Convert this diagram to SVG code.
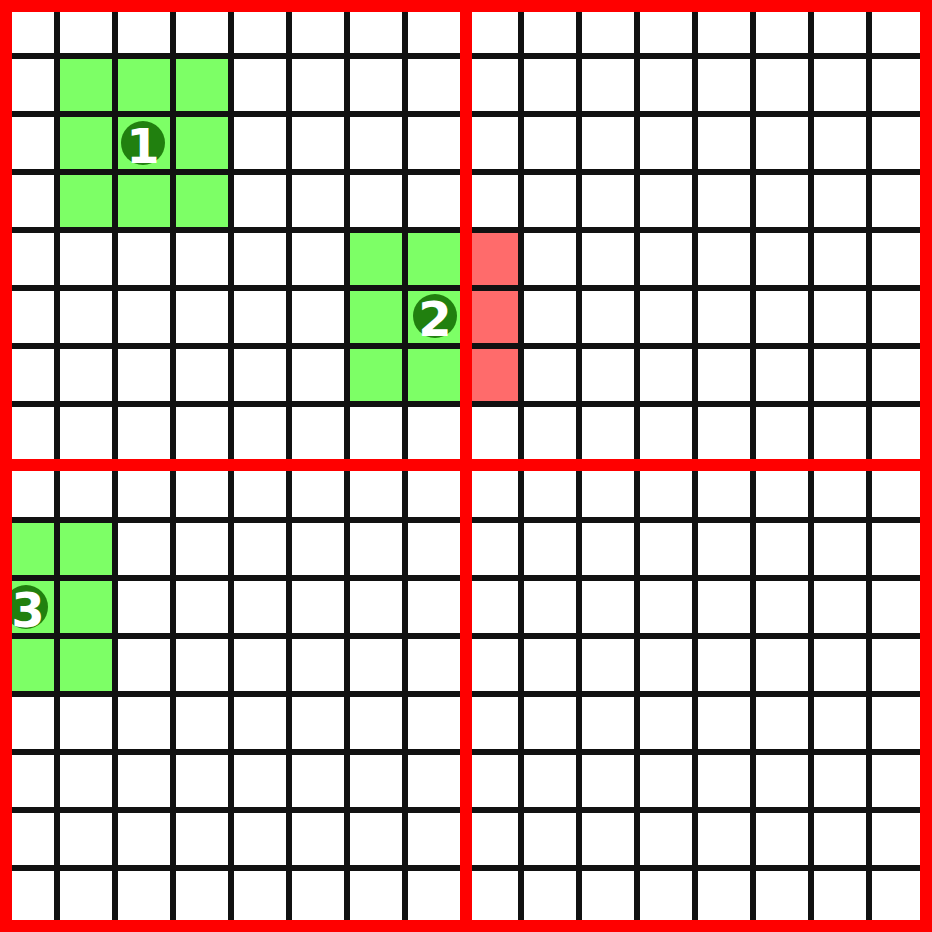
<svg xmlns="http://www.w3.org/2000/svg" width="932" height="932" viewBox="0 0 932 932">
  <style>
    .g { fill: #7dff66; }
    .r { fill: #ff6b6b; }
    .grid line { stroke: #111111; stroke-width: 6; }
    .red line { stroke: #ff0000; stroke-width: 12; }
    .badge circle { fill: #21800f; }
    .badge text { fill: #ffffff; font-family: "DejaVu Sans", sans-serif; font-weight: bold; font-size: 48px; text-anchor: middle; }
  </style>
  <rect x="0" y="0" width="932" height="932" fill="#ffffff"/>
  <g id="fills">
    <rect class="g" x="57" y="56" width="174" height="174"/>
    <rect class="g" x="347" y="230" width="116" height="174"/>
    <rect class="r" x="463" y="230" width="58" height="174"/>
    <rect class="g" x="0" y="520" width="115" height="174"/>
  </g>
  <g id="grid" class="grid">
    <line x1="57" y1="0" x2="57" y2="932"/>
    <line x1="115" y1="0" x2="115" y2="932"/>
    <line x1="173" y1="0" x2="173" y2="932"/>
    <line x1="231" y1="0" x2="231" y2="932"/>
    <line x1="289" y1="0" x2="289" y2="932"/>
    <line x1="347" y1="0" x2="347" y2="932"/>
    <line x1="405" y1="0" x2="405" y2="932"/>
    <line x1="521" y1="0" x2="521" y2="932"/>
    <line x1="579" y1="0" x2="579" y2="932"/>
    <line x1="637" y1="0" x2="637" y2="932"/>
    <line x1="695" y1="0" x2="695" y2="932"/>
    <line x1="753" y1="0" x2="753" y2="932"/>
    <line x1="811" y1="0" x2="811" y2="932"/>
    <line x1="869" y1="0" x2="869" y2="932"/>
    <line x1="0" y1="56" x2="932" y2="56"/>
    <line x1="0" y1="114" x2="932" y2="114"/>
    <line x1="0" y1="172" x2="932" y2="172"/>
    <line x1="0" y1="230" x2="932" y2="230"/>
    <line x1="0" y1="288" x2="932" y2="288"/>
    <line x1="0" y1="346" x2="932" y2="346"/>
    <line x1="0" y1="404" x2="932" y2="404"/>
    <line x1="0" y1="520" x2="932" y2="520"/>
    <line x1="0" y1="578" x2="932" y2="578"/>
    <line x1="0" y1="636" x2="932" y2="636"/>
    <line x1="0" y1="694" x2="932" y2="694"/>
    <line x1="0" y1="752" x2="932" y2="752"/>
    <line x1="0" y1="810" x2="932" y2="810"/>
    <line x1="0" y1="868" x2="932" y2="868"/>
  </g>
  <g id="badge-1" class="badge">
    <circle cx="143" cy="143" r="22"/>
    <text x="143" y="163">1</text>
  </g>
  <g id="badge-2" class="badge">
    <circle cx="435" cy="316" r="22"/>
    <text x="435" y="336">2</text>
  </g>
  <g id="badge-3" class="badge">
    <circle cx="26" cy="607" r="22"/>
    <text x="28" y="627">3</text>
  </g>
  <g id="quadrants" class="red">
    <line x1="466" y1="0" x2="466" y2="932"/>
    <line x1="0" y1="465" x2="932" y2="465"/>
  </g>
  <rect id="border" x="6" y="6" width="920" height="920" fill="none" stroke="#ff0000" stroke-width="12"/>
</svg>
